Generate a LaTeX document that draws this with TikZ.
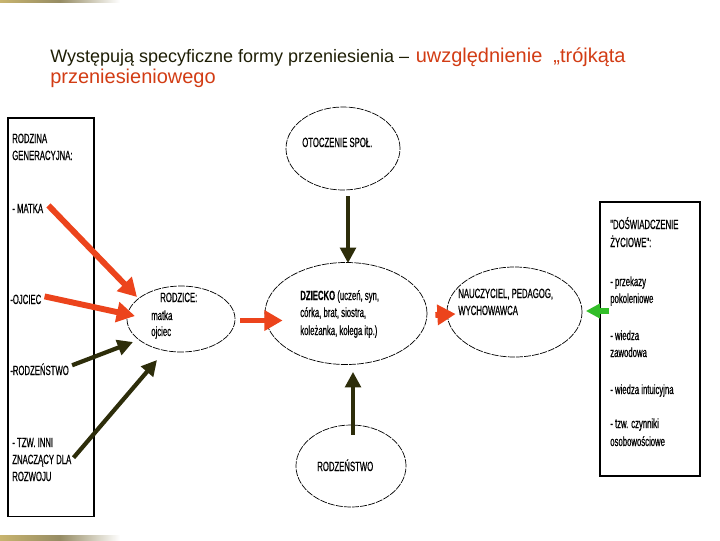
\documentclass[tikz,border=0pt]{standalone}
\usepackage{fontspec}
\setmainfont{Liberation Sans}
\newfontfamily\cond[FakeStretch=0.58,FakeBold=0.6]{Liberation Sans}
\usetikzlibrary{arrows.meta,calc,shapes.geometric}
\definecolor{arrred}{RGB}{236,68,28}
\definecolor{arrdark}{RGB}{45,45,10}
\definecolor{arrgreen}{RGB}{50,190,40}
\definecolor{titledark}{RGB}{30,30,5}
\definecolor{titlered}{RGB}{210,60,20}
\definecolor{goldA}{RGB}{200,180,110}
\definecolor{goldB}{RGB}{150,140,100}
\tikzset{
  ell/.style={draw=black, ellipse, line width=0.5pt, dash pattern=on 5pt off 0.8pt, inner sep=0pt},
  lbl/.style={anchor=base west, inner sep=0pt, font=\cond\fontsize{9.5}{11}\selectfont, text=black},
  ttl/.style={anchor=base west, inner sep=0pt},
  boxst/.style={draw=black, line width=0.8pt, inner sep=0pt},
  redarr/.style={draw=arrred, line width=4.2pt, -{Triangle[length=13pt,width=14pt]}},
  darkarr/.style={draw=arrdark, line width=3pt, -{Triangle[length=11pt,width=11pt]}},
  vdarkarr/.style={draw=arrdark, line width=3.5pt, -{Triangle[length=11pt,width=11pt]}},
  greenarr/.style={draw=arrgreen, line width=4.3pt, -{Triangle[length=10pt,width=10pt]}}
}
\begin{document}
\begin{tikzpicture}[x=0.025cm,y=-0.025cm]
\useasboundingbox (0,0) rectangle (720,540);
% decorative bars
\shade[left color=goldA, right color=white, middle color=goldB] (0,0) rectangle (120,2.5);
\shade[left color=goldA, right color=white, middle color=goldB] (0,535.5) rectangle (120,540);
% title
\node[ttl, text=titledark, font=\fontsize{12.8}{14}\selectfont] (t1) at (50,62) {Występują specyficzne formy przeniesienia –};
\node[ttl, text=titlered, font=\fontsize{14.2}{16}\selectfont] (t2) at ($(t1.base east)+(6,0)$) {uwzględnienie\ \ „trójkąta};
\node[ttl, text=titlered, font=\fontsize{14.2}{16}\selectfont] (t3) at (50,83) {przeniesieniowego};
% left box
\node[boxst, minimum width=2.15cm, minimum height=9.95cm] (lbox) at (51,317) {};
\node[lbl] (l1) at (12,143) {RODZINA};
\node[lbl] (l2) at (12,160) {GENERACYJNA:};
\node[lbl] (matka) at (12,213) {- MATKA};
\node[lbl] (ojciec) at (10,304) {-OJCIEC};
\node[lbl] (rodz) at (10,375) {-RODZEŃSTWO};
\node[lbl] (inni1) at (12,447) {- TZW. INNI};
\node[lbl] (inni) at (12,464) {ZNACZĄCY DLA};
\node[lbl] (inni3) at (12,481) {ROZWOJU};
% right box
\node[boxst, minimum width=2.5cm, minimum height=6.85cm] (rbox) at (650,339) {};
\node[lbl] at (610,229) {"DOŚWIADCZENIE};
\node[lbl] at (610,247) {ŻYCIOWE":};
\node[lbl] at (610,286) {- przekazy};
\node[lbl] at (610,303) {pokoleniowe};
\node[lbl] at (610,340) {- wiedza};
\node[lbl] at (610,357) {zawodowa};
\node[lbl] at (610,394) {- wiedza intuicyjna};
\node[lbl] at (610,428) {- tzw. czynniki};
\node[lbl] at (610,446) {osobowościowe};
% ellipses
\node[ell, minimum width=2.7cm, minimum height=1.65cm] (rodzice) at (181,319) {};
\node[lbl] at (160,302) {RODZICE:};
\node[lbl] at (151,320) {matka};
\node[lbl] at (151,336) {ojciec};
\node[ell, minimum width=4.05cm, minimum height=2.55cm] (dziecko) at (346,313.5) {};
\node[lbl] at (300,300) {\bfseries DZIECKO \mdseries (uczeń, syn,};
\node[lbl] at (300,317) {córka, brat, siostra,};
\node[lbl] at (300,335) {koleżanka, kolega itp.)};
\node[ell, minimum width=3.375cm, minimum height=2.25cm] (naucz) at (514.5,312) {};
\node[lbl] at (458,298) {NAUCZYCIEL, PEDAGOG,};
\node[lbl] at (458,315) {WYCHOWAWCA};
\node[ell, minimum width=2.85cm, minimum height=2.075cm] (otocz) at (343,148.5) {};
\node[lbl] at (302,147) {OTOCZENIE SPOŁ.};
\node[ell, minimum width=2.75cm, minimum height=2.05cm] (rodzb) at (351,466) {};
\node[lbl] at (317,471) {RODZEŃSTWO};
% arrows
\draw[redarr] ($(matka.east)+(5,-3)$) -- ($(rodzice.center)+(-44,-22)$);
\draw[redarr] ($(ojciec.east)+(3,-3)$) -- ($(rodzice.center)+(-46,-3)$);
\draw[darkarr] ($(rodz.east)+(3,-4)$) -- ($(rodzice.center)+(-48,23)$);
\draw[darkarr] ($(inni.east)+(2,-3)$) -- ($(rodzice.center)+(-24,41)$);
\draw[redarr] ($(rodzice.east)+(5,1.5)$) -- ($(dziecko.west)+(18,7)$);
\draw[redarr] ($(dziecko.east)+(8,1.5)$) -- ($(naucz.west)+(9,2)$);
\draw[greenarr] ($(rbox.west)+(10,-28)$) -- ($(naucz.east)+(3.5,-1)$);
\draw[vdarkarr] ($(otocz.south)+(5,6)$) -- ($(dziecko.north)+(2,1)$);
\draw[vdarkarr] ($(rodzb.north)+(2,10)$) -- ($(dziecko.south)+(7,7)$);
\end{tikzpicture}
\end{document}
